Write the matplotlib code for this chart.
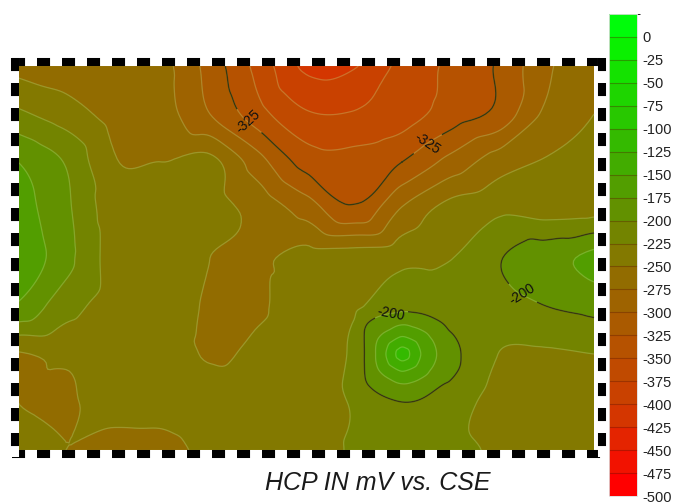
import numpy as np
import matplotlib.pyplot as plt
import matplotlib.tri as mtri
from matplotlib.colors import ListedColormap, BoundaryNorm
from matplotlib.cm import ScalarMappable
from matplotlib.lines import Line2D
from matplotlib.patches import Rectangle

plt.rcParams['font.family'] = ['Liberation Sans', 'DejaVu Sans']
plt.rcParams['lines.scale_dashes'] = False

# survey grid positions (map units) and HCP readings in mV
x_nodes = [18, 66, 114, 162, 210, 258, 306, 354, 402, 450, 498, 546, 594]
y_nodes = [66, 114, 162, 210, 258, 306, 354, 402, 450]

hcp = [
    [-258, -262, -265, -268, -310, -358, -405, -402, -368, -345, -322, -280, -255],
    [-220, -238, -258, -265, -300, -340, -372, -373, -362, -338, -318, -270, -250],
    [-175, -202, -248, -250, -243, -290, -335, -340, -325, -292, -262, -248, -243],
    [-162, -195, -238, -240, -242, -258, -285, -320, -272, -240, -230, -234, -232],
    [-150, -192, -235, -240, -250, -254, -240, -236, -232, -226, -202, -185, -168],
    [-178, -215, -235, -240, -252, -252, -240, -230, -207, -215, -210, -200, -193],
    [-252, -245, -240, -240, -252, -246, -238, -218, -118, -190, -225, -228, -225],
    [-250, -252, -243, -243, -240, -240, -238, -222, -200, -212, -234, -238, -240],
    [-243, -250, -258, -256, -245, -240, -238, -222, -215, -220, -228, -240, -244],
]

# extra readings taken around the low spot south of centre
extra_x = [426, 378, 402, 402, 419, 385, 419, 385, 436, 368, 436, 368]
extra_y = [354, 354, 330, 378, 337, 337, 371, 371, 322, 322, 386, 386]
extra_v = [-160, -170, -165, -165, -162, -168, -162, -168, -197, -201, -197, -201]

levels = list(range(-500, 26, 25))
tick_values = list(range(-500, 1, 25))
bin_colors = [
    (255, 0, 0), (242, 18, 0), (228, 36, 0), (212, 54, 0), (201, 65, 0),
    (192, 74, 0), (182, 82, 0), (170, 90, 0), (158, 99, 0), (146, 108, 0),
    (131, 121, 0), (115, 132, 0), (98, 145, 0), (82, 158, 0), (66, 172, 0),
    (52, 186, 0), (40, 200, 0), (30, 213, 0), (20, 226, 0), (10, 240, 0),
    (0, 252, 10),
]
label_levels = [-325, -200]
label_spots = [(243, 128), (432, 150), (392, 318), (518, 302)]

cmap = ListedColormap([(r / 255, g / 255, b / 255) for r, g, b in bin_colors])
norm = BoundaryNorm(levels, cmap.N)

X, Y = np.meshgrid(x_nodes, y_nodes)
px = np.concatenate([X.ravel(), extra_x]).astype(float)
py = np.concatenate([Y.ravel(), extra_y]).astype(float)
pv = np.concatenate([np.array(hcp, dtype=float).ravel(), extra_v])
tri = mtri.Triangulation(px, py)
interp = mtri.CubicTriInterpolator(tri, pv, kind='geom')
refiner = mtri.UniformTriRefiner(tri)
tri_f, z_f = refiner.refine_field(pv, triinterpolator=interp, subdiv=4)

W, H = 680, 504
fig = plt.figure(figsize=(W / 100, H / 100), dpi=100)
ax = fig.add_axes([18 / W, (H - 450) / H, 577 / W, 384 / H])
ax.tricontourf(tri_f, z_f, levels=levels, cmap=cmap, norm=norm)
ax.tricontour(tri_f, z_f, levels=levels, colors=[(0.85, 0.85, 0.55)],
              linewidths=0.9, alpha=0.3, linestyles='solid')
cs = ax.tricontour(tri_f, z_f, levels=label_levels, colors=[(0.22, 0.22, 0.06)],
                   linewidths=1.0, linestyles='solid')
# the left lobe -200 ring is drawn light in the original
cs.set_clip_path(Rectangle((150, 0), 600, 600, transform=ax.transData))
ax.clabel(cs, fmt='%d', fontsize=10, colors='#111111', manual=label_spots,
          inline=True, inline_spacing=3)
ax.set_xlim(18, 595)
ax.set_ylim(450, 66)
ax.axis('off')

# dashed map frame
def frame_line(xs, ys):
    xs = [v / W for v in xs]
    ys = [(H - v) / H for v in ys]
    fig.add_artist(Line2D(xs, ys, transform=fig.transFigure, color='white',
                          linewidth=5.8, solid_capstyle='butt'))
    fig.add_artist(Line2D(xs, ys, transform=fig.transFigure, color='black',
                          linewidth=5.8, linestyle=(0, (9.4, 8.6)),
                          dash_capstyle='butt'))

frame_line([12, 608], [62, 62])
frame_line([12, 608], [453.5, 453.5])
frame_line([15, 15], [58, 457])
frame_line([602, 602], [58, 457])

# colour bar
cax = fig.add_axes([609 / W, (H - 496) / H, 28 / W, 482 / H])
cb = fig.colorbar(ScalarMappable(norm=norm, cmap=cmap), cax=cax,
                  ticks=tick_values, drawedges=True)
cb.dividers.set_color((0.3, 0.1, 0.0, 0.35))
cb.dividers.set_linewidth(0.8)
cb.outline.set_edgecolor('#dddddd')
cb.outline.set_linewidth(0.6)
cax.tick_params(length=0, pad=4, labelsize=10.5, colors='#222222')
cax.set_yticklabels([str(v) for v in tick_values])

fig.text(265 / W, (H - 490) / H, 'HCP IN mV vs. CSE', fontsize=18,
         fontstyle='italic', color='#1a1a1a', ha='left', va='baseline')

fig.savefig('out.png', dpi=100)
